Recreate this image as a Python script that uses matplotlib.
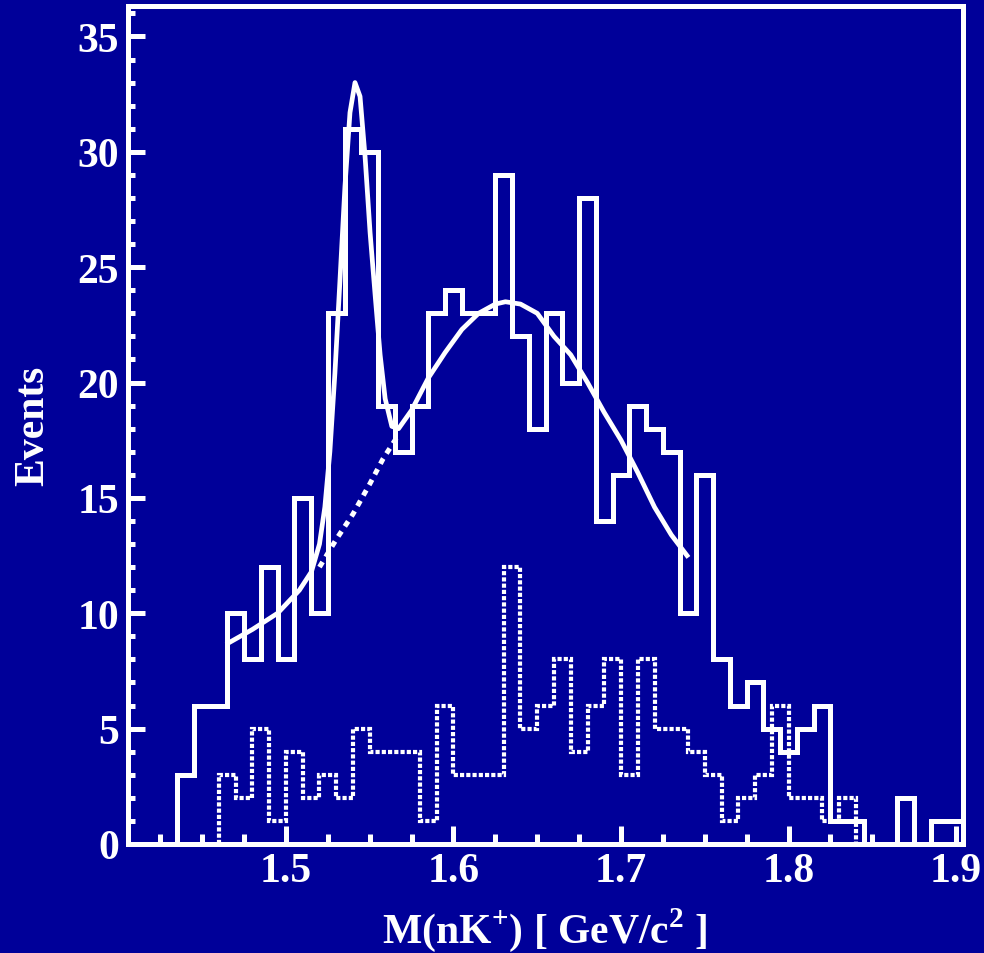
# mass spectrum of nK+ with fitted peak on smooth background

#import lib
import numpy as np
from matplotlib import pyplot as plt

#data
# solid histogram, 0.01 bins starting at 1.435
edges_sig = np.round(np.arange(1.435, 1.9051, 0.01), 3)
cnt_sig   = [3, 6, 6, 10, 8, 12, 8, 15, 10, 23,
             31, 30, 19, 17, 19, 23, 24, 23, 23, 29,
             22, 18, 23, 20, 28, 14, 16, 19, 18, 17,
             10, 16, 8, 6, 7, 5, 4, 5, 6, 1,
             1, 0, 0, 2, 0, 1, 1]

# dotted histogram, 0.01 bins starting at 1.46
edges_bkg = np.round(np.arange(1.46, 1.8451, 0.01), 3)
cnt_bkg   = [3, 2, 5, 1, 4, 2, 3, 2, 5, 4,
             4, 4, 1, 6, 3, 3, 3, 12, 5, 6,
             8, 4, 6, 8, 3, 8, 5, 5, 4, 3,
             1, 2, 3, 6, 2, 2, 1, 2]

# fit curve (peak + background)
fit_x = [1.4654, 1.480, 1.495, 1.508, 1.5152, 1.520, 1.5232, 1.5262, 1.5292,
         1.5322, 1.5352, 1.5382, 1.5412, 1.5442, 1.5472, 1.5502, 1.5532,
         1.5562, 1.5592, 1.5632, 1.5672, 1.575, 1.585, 1.595, 1.605, 1.615,
         1.625, 1.631, 1.640, 1.650, 1.660, 1.670, 1.680, 1.690, 1.700,
         1.710, 1.720, 1.730, 1.7394]
fit_y = [8.7, 9.3, 10.0, 11.0, 11.8, 13.0, 14.6, 17.0, 20.4,
         24.4, 28.5, 31.7, 33.0, 32.4, 29.8, 26.5, 23.8,
         21.2, 19.3, 18.1, 18.0, 18.8, 20.2, 21.3, 22.3, 23.0,
         23.4, 23.5, 23.4, 23.0, 22.0, 21.2, 20.0, 18.7, 17.5,
         16.1, 14.6, 13.4, 12.5]

# background under the peak (dotted part)
bg_x = [1.520, 1.530, 1.540, 1.550, 1.558, 1.566]
bg_y = [12.0, 13.2, 14.3, 15.6, 16.7, 17.6]

#style
blue = "#000099"
plt.rcParams["font.family"]      = ["Liberation Serif", "DejaVu Serif"]
plt.rcParams["font.weight"]      = "bold"
plt.rcParams["mathtext.fontset"] = "custom"
plt.rcParams["mathtext.rm"]      = "Liberation Serif:bold"
plt.rcParams["mathtext.bf"]      = "Liberation Serif:bold"

fig = plt.figure(figsize=(9.84, 9.54), dpi=100, facecolor=blue)
ax  = fig.add_axes([0.1296, 0.1143, 0.8486, 0.8779], facecolor=blue)

ax.stairs(cnt_sig, edges_sig, color="w", lw=3.6)
ax.stairs(cnt_bkg, edges_bkg, color="w", lw=3.0, linestyle=(0, (1, 0.5)))
ax.plot(fit_x, fit_y, color="w", lw=3.4)
ax.plot(bg_x, bg_y, color="w", lw=3.6, linestyle=(0, (1.2, 1.2)))

ax.set_xlim(1.4054, 1.9039)
ax.set_ylim(0, 36.3)
ax.set_xticks([1.5, 1.6, 1.7, 1.8, 1.9])
ax.set_xticks(np.arange(1.425, 1.90, 0.025), minor=True)
ax.set_yticks(range(0, 36, 5))
ax.set_yticks(range(0, 37), minor=True)

for s in ax.spines.values():
    s.set_color("w")
    s.set_linewidth(3.6)
ax.tick_params(which="both", direction="in", color="w", width=3.6,
               labelcolor="w", labelsize=30, top=False, right=False)
ax.tick_params(axis="x", which="major", length=13, pad=6)
ax.tick_params(axis="x", which="minor", length=7)
ax.tick_params(axis="y", which="major", length=12, pad=6)
ax.tick_params(axis="y", which="minor", length=5)

ax.set_xlabel(r"M(nK$^{\mathrm{+}}$) [ GeV/c$^{\mathrm{2}}$ ]", color="w",
              fontsize=30, fontweight="bold", labelpad=11)
ax.set_ylabel("Events", color="w", fontsize=30, fontweight="bold", labelpad=18)

plt.savefig("out.png", dpi=100, facecolor=blue)
